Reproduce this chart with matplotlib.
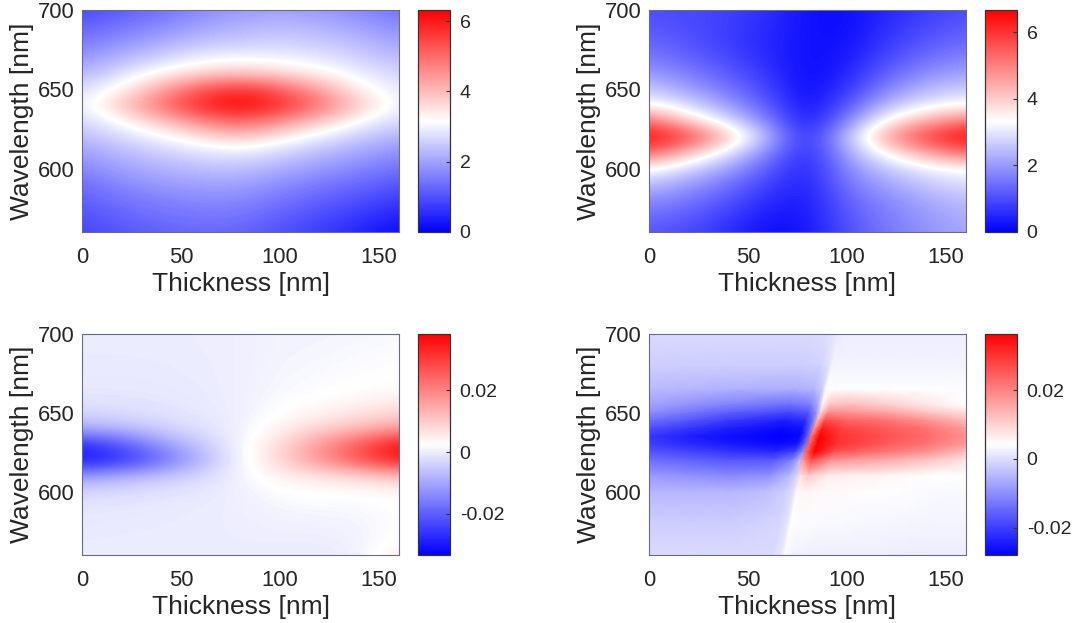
import matplotlib
matplotlib.use('Agg')
import matplotlib.pyplot as plt
import numpy as np

plt.rcParams['font.family'] = ['Liberation Sans', 'DejaVu Sans']
text_color = '#262626'

# thickness / wavelength nodes the values were read at
thick = [0, 20, 40, 60, 80, 100, 120, 140, 160]
wave = [700, 690, 680, 670, 660, 650, 640, 630, 620, 610, 600, 590, 580, 570, 560]

# each list is one thickness column, wavelength from 700 down to 560
p1_cols = [
    [0.9, 1.2, 1.5, 1.85, 2.25, 2.7, 2.95, 2.65, 2.3, 1.95, 1.65, 1.35, 1.15, 1.0, 0.85],
    [1.15, 1.45, 1.8, 2.25, 2.75, 3.3, 3.85, 3.2, 2.7, 2.3, 2.0, 1.7, 1.45, 1.25, 1.05],
    [1.4, 1.7, 2.1, 2.6, 3.3, 4.25, 4.95, 3.9, 3.05, 2.55, 2.2, 1.9, 1.6, 1.4, 1.2],
    [1.7, 2.0, 2.4, 2.95, 3.7, 5.3, 5.9, 4.7, 3.5, 2.8, 2.35, 2.0, 1.7, 1.5, 1.3],
    [1.9, 2.2, 2.5, 3.05, 3.9, 5.8, 6.3, 5.2, 3.9, 2.9, 2.4, 2.0, 1.7, 1.45, 1.25],
    [2.0, 2.3, 2.6, 3.0, 3.65, 5.2, 5.85, 4.6, 3.4, 2.65, 2.15, 1.75, 1.45, 1.2, 1.0],
    [1.9, 2.2, 2.5, 2.85, 3.35, 4.3, 4.95, 3.85, 2.95, 2.3, 1.9, 1.5, 1.2, 0.95, 0.75],
    [1.7, 2.0, 2.3, 2.6, 2.95, 3.35, 3.85, 3.15, 2.5, 2.05, 1.65, 1.3, 1.0, 0.7, 0.45],
    [1.4, 1.7, 2.0, 2.3, 2.6, 2.85, 2.95, 2.65, 2.2, 1.75, 1.4, 1.05, 0.7, 0.4, 0.1],
]
p2_cols = [
    [1.0, 1.15, 1.35, 1.6, 2.05, 2.65, 3.4, 5.3, 6.6, 5.4, 3.4, 2.5, 1.85, 1.45, 1.15],
    [0.95, 1.0, 1.1, 1.3, 1.65, 2.1, 2.85, 3.95, 5.9, 4.15, 2.8, 2.05, 1.55, 1.2, 0.95],
    [0.85, 0.8, 0.8, 0.95, 1.2, 1.55, 2.05, 2.9, 4.2, 3.0, 2.1, 1.5, 1.1, 0.8, 0.6],
    [0.6, 0.55, 0.5, 0.55, 0.7, 0.9, 1.2, 1.7, 2.4, 1.75, 1.2, 0.85, 0.55, 0.3, 0.15],
    [0.2, 0.2, 0.2, 0.15, 0.1, 0.08, 0.12, 0.2, 0.35, 0.4, 0.35, 0.35, 0.3, 0.3, 0.25],
    [0.15, 0.15, 0.2, 0.3, 0.45, 0.7, 1.1, 1.7, 2.5, 2.15, 1.8, 1.55, 1.3, 1.15, 1.05],
    [0.5, 0.6, 0.75, 0.95, 1.3, 1.75, 2.45, 3.5, 4.6, 3.5, 2.6, 2.15, 1.8, 1.65, 1.55],
    [0.8, 0.95, 1.15, 1.45, 1.85, 2.4, 3.1, 4.4, 5.9, 4.5, 3.1, 2.6, 2.2, 2.0, 1.9],
    [1.0, 1.2, 1.4, 1.75, 2.15, 2.7, 3.35, 5.2, 6.65, 5.3, 3.4, 2.9, 2.5, 2.3, 2.2],
]
p3_cols = [
    [-0.0001, -0.0002, -0.0004, -0.0006, -0.001, -0.003, -0.009, -0.027, -0.031, -0.012, -0.003, -0.001, -0.0006, -0.0003, 0.0],
    [-0.0001, -0.0002, -0.0004, -0.0006, -0.001, -0.0025, -0.007, -0.021, -0.027, -0.009, -0.0025, -0.0008, -0.0004, -0.0002, -0.0001],
    [0.0, -0.0001, -0.0003, -0.0005, -0.0008, -0.0015, -0.004, -0.012, -0.019, -0.006, -0.0015, -0.0005, -0.0003, -0.0001, -0.0001],
    [0.0, 0.0, -0.0001, -0.0002, -0.0004, -0.0007, -0.0018, -0.005, -0.0085, -0.003, -0.0008, -0.0002, -0.0001, 0.0, 0.0],
    [0.0003, 0.0003, 0.0003, 0.0003, 0.0003, 0.0003, 0.0005, 0.001, 0.0012, 0.0008, 0.0004, 0.0002, 0.0001, 0.0, -0.0001],
    [0.001, 0.001, 0.0012, 0.0014, 0.0018, 0.0026, 0.0045, 0.0075, 0.0085, 0.0045, 0.0024, 0.0012, 0.0005, 0.0001, -0.0002],
    [0.001, 0.0012, 0.0015, 0.0019, 0.0024, 0.0042, 0.0085, 0.017, 0.018, 0.0065, 0.0029, 0.0016, 0.0007, 0.0, -0.0003],
    [0.0012, 0.0016, 0.002, 0.0024, 0.0032, 0.0062, 0.012, 0.026, 0.027, 0.0085, 0.0028, 0.0016, 0.001, 0.0006, 0.0],
    [0.0015, 0.002, 0.0023, 0.0028, 0.0042, 0.0085, 0.016, 0.037, 0.036, 0.012, 0.0038, 0.0026, 0.0024, 0.003, 0.006],
]

# panel 4 has a sharp ridge, so its nodes follow the ridge position in each row
p4_wave = [700, 680, 665, 655, 650, 645, 640, 635, 630, 625, 620, 610, 600, 580, 560]
p4_ridge = [94.5, 91.5, 88.5, 86.5, 85.5, 84, 82.5, 81, 80, 78.5, 77, 75.5, 73.5, 70.5, 67.5]
p4_fixed_left = [0, 20, 40]
p4_ridge_offset = [-15, -5, -1, 1, 5, 15]
p4_fixed_right = [120, 140, 160]
p4_cols = [
    [-0.0005, -0.002, -0.0045, -0.0075, -0.01, -0.014, -0.018, -0.021, -0.02, -0.017, -0.014, -0.0085, -0.005, -0.002, -0.0005],
    [-0.0005, -0.002, -0.005, -0.0095, -0.013, -0.017, -0.021, -0.024, -0.0225, -0.019, -0.0155, -0.0095, -0.005, -0.002, -0.0005],
    [-0.0005, -0.002, -0.0055, -0.0115, -0.016, -0.0205, -0.024, -0.026, -0.0245, -0.021, -0.017, -0.0105, -0.005, -0.002, -0.0005],
    [-0.0005, -0.002, -0.006, -0.014, -0.019, -0.024, -0.0265, -0.028, -0.0265, -0.0225, -0.017, -0.0095, -0.004, -0.0015, -0.0005],
    [0.0, -0.0015, -0.005, -0.012, -0.017, -0.022, -0.0255, -0.027, -0.025, -0.019, -0.012, -0.005, -0.002, -0.0008, -0.0005],
    [0.001, 0.0005, -0.002, -0.006, -0.009, -0.012, -0.014, -0.016, -0.014, -0.01, -0.005, -0.001, 0.0, 0.0005, 0.001],
    [0.0015, 0.0025, 0.004, 0.006, 0.01, 0.014, 0.018, 0.022, 0.024, 0.024, 0.018, 0.008, 0.005, 0.0042, 0.0035],
    [0.002, 0.0025, 0.0042, 0.012, 0.019, 0.027, 0.033, 0.036, 0.0365, 0.036, 0.027, 0.011, 0.0055, 0.0038, 0.0025],
    [0.002, 0.0025, 0.0045, 0.013, 0.018, 0.024, 0.028, 0.03, 0.03, 0.026, 0.018, 0.0065, 0.0048, 0.0035, 0.002],
    [0.002, 0.0025, 0.0042, 0.0105, 0.016, 0.022, 0.025, 0.026, 0.025, 0.021, 0.015, 0.0055, 0.0042, 0.003, 0.002],
    [0.002, 0.0025, 0.004, 0.0075, 0.012, 0.018, 0.022, 0.023, 0.022, 0.018, 0.012, 0.0045, 0.0037, 0.0028, 0.0019],
    [0.002, 0.0025, 0.0038, 0.0045, 0.0085, 0.013, 0.017, 0.018, 0.017, 0.012, 0.008, 0.004, 0.0034, 0.0028, 0.0018],
]

p_ranges = [(0, 6.32), (0, 6.67), (-0.0334, 0.0385), (-0.028, 0.0365)]
cb_ticks = [[0, 2, 4, 6], [0, 2, 4, 6], [-0.02, 0, 0.02], [-0.02, 0, 0.02]]
cb_labels = [['0', '2', '4', '6'], ['0', '2', '4', '6'], ['-0.02', '0', '0.02'], ['-0.02', '0', '0.02']]

W, H = 1078, 623
fig = plt.figure(figsize=(W / 100, H / 100), dpi=100)


def px_axes(x0, y0, x1, y1):
    return fig.add_axes([x0 / W, 1 - y1 / H, (x1 - x0) / W, (y1 - y0) / H])


def draw_panel(i, x0, y0, y1):
    ax = px_axes(x0, y0, x0 + 317, y1)
    vmin, vmax = p_ranges[i]
    if i < 3:
        z = np.array([p1_cols, p2_cols, p3_cols][i]).T
        im = ax.imshow(z, cmap='bwr', vmin=vmin, vmax=vmax, aspect='auto', interpolation='bicubic',
                       extent=[thick[0] - 10, thick[-1] + 10, wave[-1] - 5, wave[0] + 5])
    else:
        z = np.array(p4_cols).T
        ridge = np.array(p4_ridge)
        xs = [np.full(len(ridge), t) for t in p4_fixed_left]
        xs += [ridge + d for d in p4_ridge_offset]
        xs += [np.full(len(ridge), t) for t in p4_fixed_right]
        xx = np.array(xs).T
        yy = np.tile(np.array(p4_wave)[:, None], (1, xx.shape[1]))
        im = ax.pcolormesh(xx, yy, z, cmap='bwr', vmin=vmin, vmax=vmax, shading='gouraud')
    ax.set_xlim(0, 160)
    ax.set_ylim(560, 700)
    ax.set_xticks([0, 50, 100, 150])
    ax.set_yticks([600, 650, 700])
    ax.tick_params(length=0, labelsize=15.8, labelcolor=text_color)
    ax.tick_params(axis='x', pad=11)
    ax.tick_params(axis='y', pad=5)
    ax.set_xlabel('Thickness [nm]', fontsize=19, color=text_color, labelpad=3)
    ax.set_ylabel('Wavelength [nm]', fontsize=19, color=text_color, labelpad=3)
    for s in ax.spines.values():
        s.set_color('#6a6a80')
        s.set_linewidth(0.8)

    cax = px_axes(x0 + 336, y0, x0 + 368, y1)
    cb = fig.colorbar(im, cax=cax)
    cb.set_ticks(cb_ticks[i])
    cb.set_ticklabels(cb_labels[i])
    cax.tick_params(direction='in', length=3, width=0.8, labelsize=14, labelcolor=text_color, pad=7,
                    color='#333333')
    cb.outline.set_edgecolor('#333333')
    cb.outline.set_linewidth(0.9)


draw_panel(0, 82, 10, 232)
draw_panel(1, 649, 10, 232)
draw_panel(2, 82, 333.5, 555)
draw_panel(3, 649, 333.5, 555)

fig.savefig('out.png', dpi=100)
